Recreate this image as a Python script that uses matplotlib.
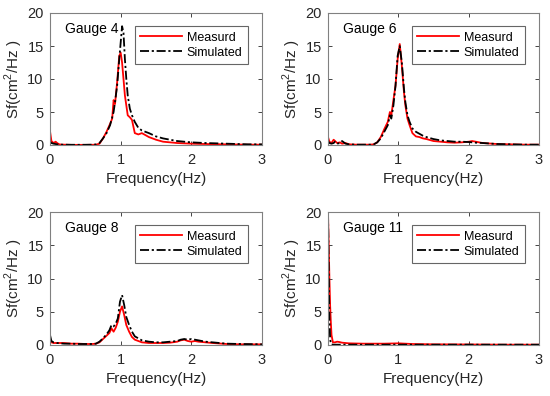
import matplotlib
matplotlib.use("Agg")
import matplotlib.pyplot as plt

plt.rcParams['font.family'] = ['Liberation Sans', 'DejaVu Sans']
plt.rcParams['mathtext.fontset'] = 'custom'
plt.rcParams['mathtext.rm'] = 'Liberation Sans'

# Frequency grids and spectra
f4 = [0, 0.02, 0.05, 0.08, 0.1, 0.13, 0.17, 0.2, 0.3, 0.4, 0.5, 0.6, 0.65, 0.7, 0.75, 0.8, 0.85, 0.88,
      0.9, 0.92, 0.95, 0.98, 1.0, 1.02, 1.04, 1.06, 1.08, 1.1, 1.13, 1.16, 1.2, 1.25, 1.3, 1.35, 1.4,
      1.5, 1.6, 1.7, 1.8, 2.0, 2.2, 2.5, 2.8, 3.0]
m4 = [2.1, 0.6, 0.3, 0.5, 0.3, 0.1, 0.05, 0.05, 0.02, 0.02, 0.02, 0.03, 0.05, 0.2, 1.0, 2.0, 3.2, 4.0,
      6.8, 6.2, 9.5, 13.5, 14.0, 12.5, 10.0, 7.5, 6.0, 4.5, 4.2, 3.8, 1.8, 1.6, 1.8, 1.5, 1.2,
      0.8, 0.5, 0.4, 0.3, 0.2, 0.15, 0.1, 0.05, 0.05]
s4 = [0.5, 0.3, 0.2, 0.15, 0.1, 0.1, 0.05, 0.05, 0.03, 0.03, 0.03, 0.05, 0.08, 0.3, 1.0, 1.8, 3.0, 4.2,
      5.0, 6.5, 9.0, 13.0, 15.5, 18.0, 17.0, 13.0, 10.0, 7.5, 5.5, 4.5, 3.5, 2.6, 2.2, 2.0, 1.8,
      1.3, 1.0, 0.8, 0.6, 0.4, 0.3, 0.2, 0.1, 0.1]

f6 = [0, 0.02, 0.05, 0.08, 0.1, 0.13, 0.17, 0.2, 0.25, 0.3, 0.4, 0.5, 0.6, 0.65, 0.7, 0.75, 0.8, 0.85,
      0.88, 0.9, 0.93, 0.96, 0.99, 1.02, 1.05, 1.08, 1.1, 1.13, 1.16, 1.2, 1.25, 1.3, 1.35, 1.4,
      1.5, 1.6, 1.7, 1.8, 1.9, 2.0, 2.05, 2.1, 2.2, 2.4, 2.6, 2.8, 3.0]
m6 = [1.2, 0.5, 0.3, 0.8, 0.6, 0.3, 0.4, 0.2, 0.3, 0.1, 0.05, 0.05, 0.05, 0.1, 0.4, 1.2, 2.4, 3.5,
      5.0, 4.5, 6.8, 9.0, 13.0, 15.3, 12.0, 8.0, 6.0, 4.0, 3.0, 1.8, 1.3, 1.2, 1.0, 0.9,
      0.6, 0.5, 0.4, 0.35, 0.4, 0.5, 0.6, 0.5, 0.3, 0.15, 0.1, 0.05, 0.05]
s6 = [0.6, 0.3, 0.2, 0.3, 0.5, 0.2, 0.3, 0.6, 0.2, 0.1, 0.05, 0.05, 0.05, 0.1, 0.4, 1.0, 2.0, 3.0,
      4.5, 4.0, 6.0, 9.0, 13.5, 15.0, 12.5, 8.5, 6.5, 4.5, 3.5, 2.5, 2.0, 1.7, 1.4, 1.2,
      0.9, 0.7, 0.6, 0.5, 0.5, 0.45, 0.4, 0.35, 0.3, 0.15, 0.1, 0.05, 0.05]

f8 = [0, 0.02, 0.05, 0.1, 0.2, 0.3, 0.4, 0.5, 0.6, 0.65, 0.7, 0.75, 0.8, 0.84, 0.87, 0.9, 0.93, 0.96,
      0.99, 1.02, 1.05, 1.08, 1.12, 1.16, 1.2, 1.3, 1.4, 1.5, 1.6, 1.7, 1.8, 1.85, 1.9, 1.95, 2.0,
      2.05, 2.1, 2.2, 2.3, 2.5, 2.7, 3.0]
m8 = [0.8, 0.4, 0.3, 0.3, 0.3, 0.2, 0.2, 0.15, 0.15, 0.2, 0.4, 0.9, 1.4, 1.8, 2.5, 2.0, 2.6, 3.5,
      5.0, 5.8, 4.5, 3.0, 2.0, 1.2, 0.8, 0.4, 0.3, 0.3, 0.3, 0.35, 0.5, 0.7, 0.8, 0.6, 0.5,
      0.6, 0.5, 0.4, 0.3, 0.15, 0.1, 0.1]
s8 = [1.5, 0.6, 0.4, 0.3, 0.2, 0.2, 0.15, 0.15, 0.15, 0.2, 0.5, 1.0, 1.6, 2.2, 3.0, 2.8, 3.2, 4.0,
      6.5, 7.5, 6.0, 4.2, 3.0, 2.0, 1.3, 0.7, 0.5, 0.4, 0.4, 0.5, 0.6, 0.8, 0.9, 0.8, 0.9,
      0.8, 0.7, 0.5, 0.4, 0.2, 0.15, 0.1]

f11 = [0, 0.01, 0.02, 0.03, 0.04, 0.05, 0.07, 0.1, 0.13, 0.16, 0.2, 0.3, 0.5, 0.7, 0.8, 1.0, 1.2,
       1.5, 2.0, 2.5, 3.0]
m11 = [20.0, 15.0, 10.0, 6.0, 3.5, 1.5, 0.4, 0.4, 0.5, 0.45, 0.35, 0.25, 0.2, 0.2, 0.2, 0.25, 0.15,
       0.1, 0.08, 0.05, 0.05]
s11 = [20.0, 12.0, 4.0, 1.0, 0.2, 0.1, 0.05, 0.05, 0.05, 0.05, 0.05, 0.05, 0.05, 0.05, 0.05, 0.05,
       0.05, 0.05, 0.05, 0.05, 0.05]

gauges = ["Gauge 4", "Gauge 6", "Gauge 8", "Gauge 11"]
freqs = [f4, f6, f8, f11]
measured = [m4, m6, m8, m11]
simulated = [s4, s6, s8, s11]

fig = plt.figure(figsize=(5.5, 3.96), dpi=100)
W, H = 550, 396
boxes = [(50, 13, 262, 145), (328, 13, 539, 145), (50, 212, 262, 345), (328, 212, 539, 345)]

for i, (x0, y0, x1, y1) in enumerate(boxes):
    ax = fig.add_axes([x0 / W, 1 - y1 / H, (x1 - x0) / W, (y1 - y0) / H])
    ax.plot(freqs[i], measured[i], color='#ff0000', lw=1.3, label='Measurd')
    ax.plot(freqs[i], simulated[i], color='black', lw=1.3, ls=(0, (5, 1.5, 1.2, 1.5)), label='Simulated')
    ax.set_xlim(0, 3)
    ax.set_ylim(0, 20)
    ax.set_xticks([0, 1, 2, 3])
    ax.set_yticks([0, 5, 10, 15, 20])
    ax.tick_params(direction='in', length=3, width=0.6, colors='#262626', labelsize=10.5,
                   top=True, right=True)
    ax.tick_params(axis='x', pad=6)
    ax.tick_params(axis='y', pad=4.5)
    for sp in ax.spines.values():
        sp.set_color('#808080')
        sp.set_linewidth(0.8)
    ax.set_xlabel('Frequency(Hz)', fontsize=11, color='#262626', labelpad=3)
    ax.set_ylabel('Sf(cm$^2$/Hz )', fontsize=11, color='#262626', labelpad=2)
    ax.text(0.07, 0.93, gauges[i], transform=ax.transAxes, fontsize=10, va='top', ha='left')
    leg = ax.legend(loc='upper right', bbox_to_anchor=(0.934, 0.902), fontsize=9,
                    frameon=True, fancybox=False, borderpad=0.45, handlelength=3.3,
                    handletextpad=0.4, labelspacing=0.25, borderaxespad=0)
    leg.get_frame().set_edgecolor('#404040')
    leg.get_frame().set_linewidth(0.8)

fig.savefig('out.png', dpi=100)
